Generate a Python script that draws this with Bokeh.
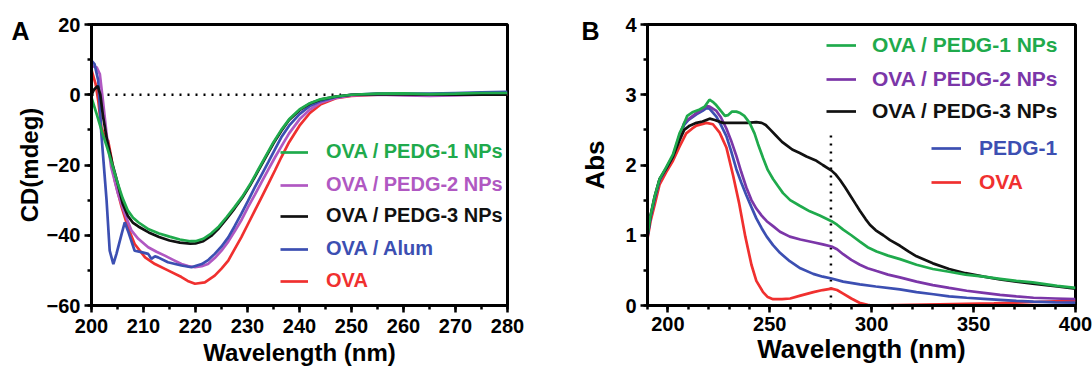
from bokeh.plotting import figure
from bokeh.models import Range1d, SingleIntervalTicker, Legend, LegendItem, Title
from bokeh.layouts import row
from bokeh.embed import file_html
from bokeh.resources import INLINE

# ---------------- Panel A data (CD spectra) ----------------
A_green_x = [200, 201, 202, 203, 204, 205, 206, 207, 208, 209, 211, 213, 215, 217, 219, 220, 221.5, 223, 224.5, 226, 227.5, 229, 230.5, 232, 233.5, 235, 236.5, 238, 240, 242, 244, 247, 250, 255, 260, 265, 270, 275, 280]
A_green_y = [-0.8, -5.5, -10.5, -15, -20, -25, -29.5, -33, -35, -36.3, -38.3, -39.5, -40.4, -41.2, -41.7, -41.7, -41, -39.5, -37.5, -34.8, -32, -29, -25.5, -21.5, -17.5, -13.5, -10, -7, -4.2, -2.4, -1.3, -0.5, 0, 0.3, 0.4, 0.2, 0.3, 0.5, 0.5]

A_black_x = [200, 200.5, 201.2, 201.7, 202.2, 203, 204, 205, 206, 207, 208, 209, 211, 213, 215, 217, 219, 220, 221.5, 223, 224.5, 226, 227.5, 229, 230.5, 232, 233.5, 235, 236.5, 238, 240, 242, 244, 247, 250, 255, 260, 270, 280]
A_black_y = [0, 1.5, 2.5, 0, -6, -13, -19.5, -25, -31, -34.5, -36.5, -37.5, -39.2, -40.5, -41.5, -42.1, -42.4, -42.3, -41.7, -40.2, -38, -35.3, -32.4, -29.3, -25.8, -21.8, -17.8, -13.8, -10.3, -7.2, -4.4, -2.5, -1.4, -0.5, 0, 0.2, 0.1, 0, 0]

A_purple_x = [200, 201, 201.6, 202.2, 202.9, 203.8, 205.1, 206.4, 207.7, 209, 210.9, 212.5, 214.1, 215.7, 217.3, 218.6, 219.9, 221.2, 222.4, 223.7, 225, 226.3, 227.6, 228.9, 230.1, 231.4, 232.7, 234, 235.3, 236.8, 238, 240, 242, 244, 247, 250, 255, 260, 265, 270, 275, 280]
A_purple_y = [8.2, 7.8, 5.9, -1.7, -11.2, -20.7, -28.2, -33.9, -38.7, -41, -43.4, -44.7, -45.8, -47, -48.2, -48.8, -49.1, -48.8, -48.2, -46.5, -44.4, -41.8, -38.7, -35.5, -32, -28.5, -24.9, -21.3, -17.8, -14, -11, -7, -4.2, -2.3, -0.9, -0.2, 0, -0.2, -0.3, -0.2, 0, 0]

A_blue_x = [200, 200.6, 201.3, 201.9, 202.9, 203.5, 204.2, 204.8, 205.8, 206.4, 207, 208.3, 209.6, 210.9, 211.5, 212.2, 212.8, 214.7, 217.3, 219.2, 221.2, 222.5, 223.7, 225, 226.3, 227.5, 228.8, 230.1, 231.4, 232.7, 234, 235.3, 236.5, 238, 240, 242, 244, 247, 250, 255, 260, 265, 270, 275, 280]
A_blue_y = [9.7, 8.7, 4, -11.2, -30.1, -44.4, -48.2, -45.3, -39.6, -36.3, -38.7, -44.4, -44.8, -45.3, -46.7, -46, -46.3, -47.7, -48.6, -49.1, -48.2, -47, -45.3, -43.2, -40.6, -37.5, -33.9, -30.2, -26.4, -22.8, -19.2, -15.5, -12.1, -8.8, -5.5, -3.2, -1.8, -0.6, 0, 0.3, 0.3, 0.3, 0.5, 0.7, 0.8]

A_red_x = [200, 200.8, 201.3, 201.9, 202.6, 203.2, 203.8, 204.5, 205.8, 207, 208.3, 210.3, 212.2, 214.7, 217.3, 218.5, 219.9, 221.8, 223.7, 225, 226.3, 227.5, 228.8, 230.1, 231.4, 232.7, 234, 235.3, 236.5, 238, 240, 242, 244, 247, 250, 255, 260, 270, 280]
A_red_y = [7, 3, -1.7, -9.3, -12.1, -13.1, -17.8, -24.5, -32, -37.7, -42.5, -46.3, -48.2, -50, -51.9, -53, -53.8, -53.4, -51.5, -49.5, -47.2, -44, -40.6, -36.8, -33, -29.2, -25.4, -21.5, -17.8, -13.5, -8.8, -5.2, -2.8, -1, -0.3, 0, 0, 0, 0]

A_ref_x = [200, 248]
A_ref_y = [0, 0]

A_labels = ["OVA / PEDG-1 NPs", "OVA / PEDG-2 NPs", "OVA / PEDG-3 NPs", "OVA / Alum", "OVA"]

# ---------------- Panel B data (UV-Vis) ----------------
B_green_x = [190, 191.5, 193.5, 195.9, 199.2, 202.5, 205.7, 207.4, 209.5, 212, 215.6, 218, 220.4, 222, 223.8, 226, 228, 229.6, 231.5, 233.6, 235.5, 237.5, 240.1, 242.5, 244.2, 246.7, 249, 251.6, 254, 256.5, 260, 264.7, 269.6, 274.5, 280.3, 283, 286, 290, 294.2, 298, 302.4, 308, 313.9, 322, 330, 338, 346, 355, 363, 371, 379, 391, 400]
B_green_y = [1.0, 1.28, 1.55, 1.8, 1.97, 2.15, 2.45, 2.55, 2.7, 2.75, 2.79, 2.83, 2.93, 2.9, 2.85, 2.77, 2.7, 2.71, 2.76, 2.76, 2.74, 2.7, 2.6, 2.45, 2.3, 2.1, 1.93, 1.8, 1.7, 1.6, 1.5, 1.42, 1.34, 1.28, 1.2, 1.15, 1.08, 1.0, 0.91, 0.83, 0.77, 0.71, 0.66, 0.58, 0.52, 0.48, 0.44, 0.41, 0.38, 0.35, 0.33, 0.28, 0.25]

B_black_x = [190, 191.5, 193.5, 195.9, 199.2, 202.5, 205.7, 208, 210.7, 214, 217, 220.5, 223, 227, 231, 235, 239, 243.4, 246, 248, 250, 253, 256, 258.3, 261, 264.7, 268, 272.9, 276, 280.3, 282.5, 284.4, 287, 289.4, 292, 294.2, 297, 299.1, 302, 305.7, 309, 313.9, 318, 322, 330, 338, 346, 355, 363, 371, 379, 391, 400]
B_black_y = [1.0, 1.28, 1.55, 1.8, 1.95, 2.12, 2.35, 2.5, 2.56, 2.6, 2.62, 2.66, 2.64, 2.6, 2.6, 2.6, 2.6, 2.61, 2.6, 2.57, 2.51, 2.42, 2.33, 2.28, 2.22, 2.17, 2.12, 2.06, 2.0, 1.92, 1.86, 1.79, 1.68, 1.57, 1.45, 1.35, 1.23, 1.15, 1.07, 1.0, 0.93, 0.85, 0.77, 0.7, 0.6, 0.52, 0.46, 0.41, 0.37, 0.34, 0.31, 0.27, 0.24]

B_purple_x = [190, 191.5, 193.5, 195.9, 199.2, 202.5, 205.7, 208, 210, 214, 217, 218.9, 220.5, 223.8, 226, 228.7, 231, 233.6, 236, 238.5, 241, 243.4, 246, 248.5, 251.6, 255, 259.8, 265, 271.3, 276, 280.3, 283, 286, 290, 294.2, 298, 302.4, 308, 313.8, 322, 330, 338, 346.6, 355, 363, 371, 379.4, 390, 400]
B_purple_y = [0.98, 1.26, 1.52, 1.78, 1.96, 2.13, 2.42, 2.6, 2.65, 2.74, 2.8, 2.84, 2.83, 2.77, 2.68, 2.52, 2.35, 2.13, 1.9, 1.68, 1.5, 1.38, 1.28, 1.2, 1.13, 1.05, 0.98, 0.94, 0.9, 0.87, 0.84, 0.8, 0.73, 0.65, 0.58, 0.53, 0.49, 0.44, 0.4, 0.34, 0.29, 0.25, 0.21, 0.18, 0.15, 0.13, 0.11, 0.1, 0.09]

B_blue_x = [190, 191.5, 193.5, 195.9, 199.2, 202.5, 205.7, 208, 210, 214, 217, 218.9, 220.5, 223.8, 226, 228.7, 231, 233.6, 236, 238.5, 241, 243.4, 246, 248.5, 251.6, 255, 259.8, 265, 271.3, 276, 280.3, 286, 294.2, 302, 313.8, 322, 330.3, 338, 346.6, 355, 363, 371, 379.4, 390, 400]
B_blue_y = [0.97, 1.26, 1.52, 1.78, 1.95, 2.12, 2.4, 2.57, 2.64, 2.72, 2.77, 2.81, 2.8, 2.69, 2.57, 2.41, 2.2, 1.94, 1.75, 1.57, 1.4, 1.24, 1.1, 0.98, 0.86, 0.75, 0.63, 0.53, 0.45, 0.41, 0.385, 0.34, 0.3, 0.27, 0.23, 0.19, 0.16, 0.13, 0.11, 0.095, 0.08, 0.065, 0.055, 0.045, 0.04]

B_red_x = [190, 191.5, 193.5, 195.9, 199.2, 202.5, 205.7, 209, 212, 214, 218.9, 222.1, 225.4, 228.7, 232, 235, 238, 241, 243.4, 246.7, 249, 251.6, 256, 260, 265, 271.4, 276, 280.3, 283, 286, 290, 294, 298, 300, 320, 340, 360, 380, 400]
B_red_y = [0.95, 1.2, 1.43, 1.72, 1.9, 2.06, 2.26, 2.45, 2.52, 2.56, 2.6, 2.58, 2.46, 2.25, 1.85, 1.45, 0.98, 0.58, 0.35, 0.19, 0.12, 0.09, 0.09, 0.1, 0.14, 0.19, 0.22, 0.24, 0.22, 0.17, 0.1, 0.04, 0.01, 0.0, 0.01, 0.02, 0.03, 0.05, 0.07]

B_ref_x = [280, 280]
B_ref_y = [0, 2.45]

B_labels = ["OVA / PEDG-1 NPs", "OVA / PEDG-2 NPs", "OVA / PEDG-3 NPs", "PEDG-1", "OVA"]

# ---------------- styling ----------------
FONT = "Liberation Sans"
GREEN = "#1faa4c"
PURPLE_A = "#b058c2"
PURPLE_B = "#7b36a8"
BLUE = "#3c4fb2"
RED = "#f0302f"
BLACK = "#111111"
LW = 2.7
H = 375


def style(p, xticker, yticker, xlabel, ylabel, s1x, s2x, label_size):
    p.outline_line_color = "black"
    p.outline_line_width = 3
    p.outline_line_alpha = 1
    p.xgrid.visible = False
    p.ygrid.visible = False
    p.background_fill_color = "white"
    p.border_fill_color = "white"
    p.xaxis.ticker = xticker
    p.yaxis.ticker = yticker
    p.xaxis.axis_label = xlabel
    p.yaxis.axis_label = ylabel
    for ax in (p.xaxis[0], p.yaxis[0]):
        ax.axis_line_width = 3
        ax.axis_line_color = "black"
        ax.major_tick_line_width = 2.5
        ax.minor_tick_line_width = 2.5
        ax.major_tick_out = 7
        ax.major_tick_in = 0
        ax.minor_tick_out = 4
        ax.minor_tick_in = 0
        ax.major_label_text_font = FONT
        ax.major_label_text_font_style = "bold"
        ax.major_label_text_font_size = "20px"
        ax.major_label_text_color = "black"
        ax.axis_label_text_font = FONT
        ax.axis_label_text_font_style = "bold"
        ax.axis_label_text_font_size = label_size
        ax.axis_label_text_color = "black"
    p.xaxis[0].major_label_standoff = s1x
    p.xaxis[0].axis_label_standoff = s2x


def single_legend(p, r, label, color, vx, vy, gw, standoff, fsize):
    lg = Legend(items=[LegendItem(label=label, renderers=[r])], location=(vx, vy),
                padding=0, margin=0, spacing=0, border_line_alpha=0, background_fill_alpha=0,
                glyph_width=gw, glyph_height=20, label_height=20, label_standoff=standoff,
                label_text_font=FONT, label_text_font_style="bold", label_text_font_size=fsize,
                label_text_color=color, label_text_baseline="middle")
    p.add_layout(lg)


def panel_letter(p, letter, offset):
    p.add_layout(Title(text=letter, align="left", vertical_align="bottom", offset=offset,
                       standoff=-40, text_font=FONT, text_font_style="bold",
                       text_font_size="25px", text_color="black"), "above")


# ---------------- Panel A ----------------
pA = figure(width=546, height=H, output_backend="svg", toolbar_location=None,
            x_range=Range1d(200, 280), y_range=Range1d(-60, 20),
            min_border_left=91, min_border_right=39, min_border_top=24, min_border_bottom=H - 305)
style(pA, SingleIntervalTicker(interval=10, num_minor_ticks=2),
      SingleIntervalTicker(interval=20, num_minor_ticks=2),
      "Wavelength (nm)", "CD(mdeg)", 6, 3, "24px")
pA.yaxis[0].major_label_standoff = 4
pA.yaxis[0].axis_label_standoff = 1

pA.line(A_ref_x, A_ref_y, line_color="black", line_width=2.5, line_dash="2 6")
rA_red = pA.line(A_red_x, A_red_y, line_color=RED, line_width=LW)
rA_purple = pA.line(A_purple_x, A_purple_y, line_color=PURPLE_A, line_width=LW)
rA_blue = pA.line(A_blue_x, A_blue_y, line_color=BLUE, line_width=LW)
rA_black = pA.line(A_black_x, A_black_y, line_color=BLACK, line_width=LW)
rA_green = pA.line(A_green_x, A_green_y, line_color=GREEN, line_width=LW)

a_rows = [(rA_green, GREEN, 142), (rA_purple, PURPLE_A, 109), (rA_black, BLACK, 78),
          (rA_blue, BLUE, 45), (rA_red, RED, 13)]
for (r, c, vy), lab in zip(a_rows, A_labels):
    single_legend(pA, r, lab, c, 189, vy, 28, 18, "20px")

panel_letter(pA, "A", -80)

# ---------------- Panel B ----------------
pB = figure(width=546, height=H, output_backend="svg", toolbar_location=None,
            x_range=Range1d(190, 400), y_range=Range1d(0, 4),
            min_border_left=101, min_border_right=17, min_border_top=24, min_border_bottom=H - 308)
style(pB, SingleIntervalTicker(interval=50, num_minor_ticks=5),
      SingleIntervalTicker(interval=1, num_minor_ticks=2),
      "Wavelength (nm)", "Abs", 4, 0, "26px")
pB.yaxis[0].major_label_standoff = 4
pB.yaxis[0].axis_label_standoff = 12

pB.line(B_ref_x, B_ref_y, line_color="black", line_width=2.5, line_dash="2 6")
rB_red = pB.line(B_red_x, B_red_y, line_color=RED, line_width=LW)
rB_blue = pB.line(B_blue_x, B_blue_y, line_color=BLUE, line_width=LW)
rB_purple = pB.line(B_purple_x, B_purple_y, line_color=PURPLE_B, line_width=LW)
rB_black = pB.line(B_black_x, B_black_y, line_color=BLACK, line_width=LW)
rB_green = pB.line(B_green_x, B_green_y, line_color=GREEN, line_width=LW)

b_rows = [(rB_green, GREEN, 179, 248, 16), (rB_purple, PURPLE_B, 179, 214, 16),
          (rB_black, BLACK, 179, 182, 16), (rB_blue, BLUE, 284, 145, 18),
          (rB_red, RED, 284, 111, 18)]
for (r, c, vx, vy, so), lab in zip(b_rows, B_labels):
    single_legend(pB, r, lab, c, vx, vy, 30, so, "21px")

panel_letter(pB, "B", -66)

layout = row(pA, pB)
open("out.html", "w").write(file_html(layout, INLINE))
